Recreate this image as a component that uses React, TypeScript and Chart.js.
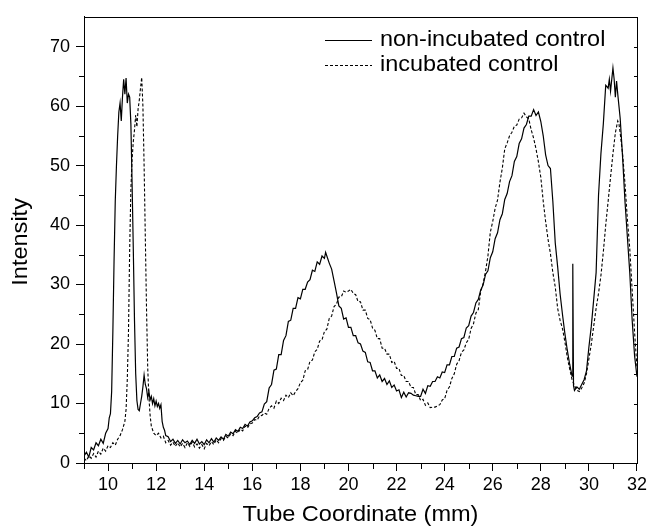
import { useEffect, useRef } from "react";
import { Chart, registerables } from "chart.js";

Chart.register(...registerables);

const xTickValues = [10, 12, 14, 16, 18, 20, 22, 24, 26, 28, 30, 32];
const xMinorTickValues = [9, 11, 13, 15, 17, 19, 21, 23, 25, 27, 29, 31];
const yTickValues = [0, 10, 20, 30, 40, 50, 60, 70];
const yMinorTickValues = [5, 15, 25, 35, 45, 55, 65];
const rightTickValues = [5, 10, 15, 20, 25, 30, 35, 40, 45, 50, 55, 60, 65, 70];
const seriesNames = ["non-incubated control", "incubated control"];
const xTitle = "Tube Coordinate (mm)";
const yTitle = "Intensity";

const nonIncubated: [number, number][] = [
  [9.0, 1.2], [9.1, 1.8], [9.2, 1.0], [9.3, 2.6], [9.4, 2.2], [9.5, 3.4], [9.6, 2.9], [9.7, 4.0], [9.8, 3.3], [9.9, 5.0],
  [10.0, 5.8], [10.05, 7.6], [10.1, 8.3], [10.15, 12], [10.2, 22], [10.25, 34], [10.3, 44], [10.35, 50], [10.4, 55], [10.45, 59],
  [10.5, 60.5], [10.55, 57.5], [10.6, 61.5], [10.65, 64.5], [10.7, 62], [10.75, 64.7], [10.8, 60.5], [10.85, 62], [10.9, 61.5], [10.95, 57],
  [11.0, 47], [11.05, 36], [11.1, 24], [11.15, 15], [11.2, 10.5], [11.25, 9], [11.3, 8.8], [11.35, 10], [11.4, 11.2], [11.45, 12.8],
  [11.5, 14.8], [11.55, 13.2], [11.6, 12.5], [11.65, 11.0], [11.7, 12.0], [11.75, 10.6], [11.8, 11.2], [11.85, 10.0], [11.9, 10.8], [11.95, 9.6],
  [12.0, 10.4], [12.05, 9.5], [12.1, 10.0], [12.15, 9.2], [12.2, 9.8], [12.25, 7.0], [12.3, 6.0], [12.35, 5.5], [12.4, 4.6], [12.5, 4.4],
  [12.6, 3.6], [12.7, 4.0], [12.8, 3.3], [12.9, 3.8], [13.0, 3.2], [13.1, 3.9], [13.2, 3.4], [13.3, 3.7], [13.4, 3.1], [13.5, 3.8],
  [13.6, 3.3], [13.7, 4.0], [13.8, 3.2], [13.9, 3.6], [14.0, 3.1], [14.1, 3.9], [14.2, 3.4], [14.3, 4.1], [14.4, 3.5], [14.5, 4.2],
  [14.6, 3.8], [14.7, 4.4], [14.8, 4.0], [14.9, 4.8], [15.0, 4.5], [15.1, 5.2], [15.2, 4.9], [15.3, 5.6], [15.4, 5.3], [15.5, 6.0],
  [15.6, 5.8], [15.7, 6.5], [15.8, 6.2], [15.9, 6.9], [16.0, 7.1], [16.1, 7.6], [16.2, 7.8], [16.3, 8.4], [16.4, 8.6], [16.5, 9.9],
  [16.6, 10.3], [16.7, 12.6], [16.8, 13.2], [16.9, 15.6], [17.0, 15.8], [17.1, 18.2], [17.2, 18.2], [17.3, 20.6], [17.4, 21.4], [17.5, 23.8],
  [17.6, 24.0], [17.7, 26.0], [17.8, 26.0], [17.9, 27.8], [18.0, 27.6], [18.1, 29.2], [18.2, 29.2], [18.3, 30.4], [18.4, 30.8], [18.5, 32.4],
  [18.6, 32.2], [18.7, 33.8], [18.8, 33.4], [18.9, 34.8], [19.0, 34.4], [19.05, 35.4], [19.1, 34.8], [19.2, 33.6], [19.3, 32.6], [19.4, 30.6],
  [19.5, 28.6], [19.6, 26.4], [19.7, 26.0], [19.8, 24.2], [19.9, 24.4], [20.0, 22.8], [20.1, 22.8], [20.2, 21.4], [20.3, 21.4], [20.4, 20.2],
  [20.5, 20.0], [20.6, 18.8], [20.7, 18.6], [20.8, 17.0], [20.9, 16.9], [21.0, 15.5], [21.1, 15.5], [21.2, 14.3], [21.3, 14.8], [21.4, 13.7],
  [21.5, 14.2], [21.6, 13.2], [21.7, 13.8], [21.8, 12.7], [21.9, 13.1], [22.0, 12.1], [22.1, 12.3], [22.2, 11.0], [22.3, 11.9], [22.4, 11.1],
  [22.5, 11.8], [22.6, 11.7], [22.7, 11.4], [22.8, 11.3], [22.9, 11.2], [23.0, 11.2], [23.1, 12.4], [23.2, 11.7], [23.3, 13.0], [23.4, 12.9],
  [23.5, 13.7], [23.6, 13.7], [23.7, 14.5], [23.8, 14.3], [23.9, 15.3], [24.0, 15.2], [24.1, 16.5], [24.2, 16.5], [24.3, 17.9], [24.4, 17.9],
  [24.5, 19.3], [24.6, 19.5], [24.7, 20.9], [24.8, 21.1], [24.9, 22.7], [25.0, 23.1], [25.1, 24.7], [25.2, 25.3], [25.3, 26.9], [25.4, 27.5],
  [25.5, 29.1], [25.6, 29.9], [25.7, 31.7], [25.8, 32.3], [25.9, 34.5], [26.0, 35.5], [26.1, 37.7], [26.2, 38.7], [26.3, 40.9], [26.4, 41.9],
  [26.5, 44.3], [26.6, 45.3], [26.7, 47.3], [26.8, 48.3], [26.9, 50.7], [27.0, 51.5], [27.1, 53.7], [27.2, 54.5], [27.3, 56.3], [27.4, 56.9],
  [27.5, 58.3], [27.6, 58.3], [27.7, 59.4], [27.8, 58.4], [27.9, 59.0], [28.0, 57.4], [28.1, 55.0], [28.2, 51.8], [28.3, 50.0], [28.4, 49.5],
  [28.5, 44.0], [28.6, 37.0], [28.7, 33.0], [28.8, 28.5], [28.9, 25.0], [29.0, 21.8], [29.1, 19.0], [29.2, 16.6], [29.3, 14.6], [29.33, 33.5],
  [29.36, 13.0], [29.4, 12.2], [29.5, 12.8], [29.6, 12.4], [29.7, 13.2], [29.8, 14.0], [29.9, 15.5], [30.0, 19.5], [30.1, 23.0], [30.2, 27.5],
  [30.3, 32.0], [30.4, 45.0], [30.5, 52.0], [30.6, 57.0], [30.7, 63.5], [30.8, 63.0], [30.85, 64.5], [30.9, 62.5], [31.0, 66.4], [31.05, 64.5],
  [31.1, 61.5], [31.15, 64.2], [31.2, 62.0], [31.3, 58.0], [31.4, 51.5], [31.5, 44.0], [31.6, 38.0], [31.7, 32.0], [31.8, 24.0], [31.9, 18.0],
  [32.0, 14.5],
];

const incubated: [number, number][] = [
  [9.0, 0.8], [9.1, 0.4], [9.2, 1.2], [9.3, 0.8], [9.4, 1.6], [9.5, 1.0], [9.6, 2.0], [9.7, 1.5], [9.8, 2.5], [9.9, 2.0],
  [10.0, 2.9], [10.1, 2.6], [10.2, 3.4], [10.3, 3.0], [10.4, 4.0], [10.5, 4.6], [10.6, 5.6], [10.7, 7.0], [10.75, 9.0], [10.8, 14],
  [10.85, 22], [10.9, 36], [10.95, 46], [11.0, 51], [11.05, 54], [11.1, 56], [11.15, 58.5], [11.2, 56.5], [11.25, 59.5], [11.3, 61],
  [11.35, 63], [11.4, 64.8], [11.45, 60], [11.5, 50], [11.55, 38], [11.6, 26], [11.65, 16], [11.7, 11], [11.75, 8], [11.8, 6.2],
  [11.9, 5.0], [12.0, 4.6], [12.1, 5.0], [12.2, 4.2], [12.3, 4.5], [12.4, 3.4], [12.5, 3.8], [12.6, 3.0], [12.7, 3.5], [12.8, 2.8],
  [12.9, 3.4], [13.0, 2.7], [13.1, 3.3], [13.2, 2.6], [13.3, 3.4], [13.4, 2.8], [13.5, 3.5], [13.6, 2.7], [13.7, 3.2], [13.8, 2.5],
  [13.9, 3.1], [14.0, 2.4], [14.1, 3.3], [14.2, 2.9], [14.3, 3.6], [14.4, 3.1], [14.5, 3.9], [14.6, 3.4], [14.7, 4.1], [14.8, 3.8],
  [14.9, 4.5], [15.0, 4.2], [15.1, 4.9], [15.2, 4.6], [15.3, 5.3], [15.4, 5.0], [15.5, 5.7], [15.6, 5.4], [15.7, 6.2], [15.8, 5.9],
  [15.9, 6.6], [16.0, 6.7], [16.1, 7.3], [16.2, 7.2], [16.3, 7.9], [16.4, 8.0], [16.5, 8.4], [16.6, 8.2], [16.7, 9.2], [16.8, 9.6],
  [16.9, 9.2], [17.0, 10.4], [17.1, 10.0], [17.2, 10.9], [17.3, 10.5], [17.4, 11.4], [17.5, 11.0], [17.6, 11.8], [17.7, 11.3], [17.8, 12.0],
  [17.9, 12.5], [18.0, 13.5], [18.1, 13.9], [18.2, 15.5], [18.3, 15.7], [18.4, 17.1], [18.5, 17.3], [18.6, 18.7], [18.7, 19.1], [18.8, 20.5],
  [18.9, 20.7], [19.0, 22.1], [19.1, 22.5], [19.2, 24.3], [19.3, 24.7], [19.4, 26.3], [19.5, 26.7], [19.6, 27.9], [19.7, 27.9], [19.8, 28.9],
  [19.9, 28.7], [20.0, 28.9], [20.1, 29.2], [20.2, 28.5], [20.3, 28.3], [20.4, 27.1], [20.5, 27.1], [20.6, 25.7], [20.7, 25.7], [20.8, 24.3],
  [20.9, 24.1], [21.0, 22.7], [21.1, 22.3], [21.2, 20.9], [21.3, 20.9], [21.4, 19.3], [21.5, 19.3], [21.6, 18.3], [21.7, 18.3], [21.8, 16.9],
  [21.9, 17.1], [22.0, 15.9], [22.1, 15.9], [22.2, 14.7], [22.3, 14.7], [22.4, 13.7], [22.5, 13.7], [22.6, 12.7], [22.7, 12.7], [22.8, 11.5],
  [22.9, 11.5], [23.0, 10.5], [23.1, 10.7], [23.2, 9.7], [23.3, 10.1], [23.4, 9.3], [23.5, 9.4], [23.6, 9.4], [23.7, 9.6], [23.8, 9.8],
  [23.9, 10.6], [24.0, 10.8], [24.1, 12.2], [24.2, 12.8], [24.3, 14.2], [24.4, 15.0], [24.5, 16.6], [24.6, 17.2], [24.7, 18.6], [24.8, 19.0],
  [24.9, 20.2], [25.0, 20.8], [25.1, 22.6], [25.2, 23.4], [25.3, 25.2], [25.4, 25.8], [25.5, 28.8], [25.6, 30.2], [25.7, 32.2], [25.8, 34.8],
  [25.9, 38.8], [26.0, 40.6], [26.1, 42.8], [26.2, 44.2], [26.3, 47.2], [26.4, 49.6], [26.5, 52.8], [26.6, 53.8], [26.7, 55.0], [26.8, 55.6],
  [26.9, 56.6], [27.0, 56.8], [27.1, 57.8], [27.2, 58.0], [27.3, 58.8], [27.4, 58.2], [27.5, 57.8], [27.6, 56.0], [27.7, 54.6], [27.8, 52.8],
  [27.9, 50.6], [28.0, 48.0], [28.1, 44.0], [28.2, 40.6], [28.3, 37.6], [28.4, 35.2], [28.5, 32.0], [28.6, 29.6], [28.7, 26.0], [28.8, 24.0],
  [28.9, 22.6], [29.0, 20.4], [29.1, 17.8], [29.2, 15.8], [29.3, 14.0], [29.4, 13.0], [29.5, 12.2], [29.6, 12.0], [29.7, 12.6], [29.8, 13.4],
  [29.9, 15.0], [30.0, 17.5], [30.1, 20.0], [30.2, 23.0], [30.3, 26.0], [30.4, 28.5], [30.5, 31.5], [30.6, 35.5], [30.7, 40.0], [30.8, 44.0],
  [30.9, 48.0], [31.0, 52.0], [31.1, 55.5], [31.2, 57.5], [31.25, 57.0], [31.3, 55.5], [31.4, 52.0], [31.5, 47.0], [31.6, 41.0], [31.7, 36.0],
  [31.8, 29.0], [31.9, 22.0], [32.0, 16.0],
];

const FONT = '"Liberation Sans", Arial, Helvetica, sans-serif';

function stretchedText(ctx: CanvasRenderingContext2D, text: string, x: number, y: number, sx: number, align: CanvasTextAlign) {
  ctx.save();
  ctx.translate(x, y);
  ctx.scale(sx, 1);
  ctx.textAlign = align;
  ctx.fillText(text, 0, 0);
  ctx.restore();
}

const framePlugin = {
  id: "frameAndMinor",
  afterDraw(chart: any) {
    const { ctx, chartArea } = chart;
    const xs = chart.scales.x;
    const ys = chart.scales.y;
    ctx.save();
    ctx.strokeStyle = "#000";
    ctx.lineWidth = 1;
    ctx.strokeRect(Math.round(chartArea.left) + 0.5, Math.round(chartArea.top) + 0.5,
      Math.round(chartArea.right - chartArea.left), Math.round(chartArea.bottom - chartArea.top));
    ctx.beginPath();
    for (const v of xMinorTickValues) {
      const px = Math.round(xs.getPixelForValue(v)) + 0.5;
      ctx.moveTo(px, chartArea.bottom);
      ctx.lineTo(px, chartArea.bottom + 6);
    }
    for (const v of yMinorTickValues) {
      const py = Math.round(ys.getPixelForValue(v)) + 0.5;
      ctx.moveTo(chartArea.left, py);
      ctx.lineTo(chartArea.left - 5, py);
    }
    for (const v of rightTickValues) {
      const py = Math.round(ys.getPixelForValue(v)) + 0.5;
      ctx.moveTo(chartArea.right, py);
      ctx.lineTo(chartArea.right - 3, py);
    }
    ctx.stroke();

    ctx.fillStyle = "#000";
    ctx.textBaseline = "middle";

    // axis titles
    ctx.font = `22px ${FONT}`;
    stretchedText(ctx, xTitle, (chartArea.left + chartArea.right) / 2, 515, 1.07, "center");
    ctx.save();
    ctx.translate(21, (chartArea.top + chartArea.bottom) / 2 + 2);
    ctx.rotate(-Math.PI / 2);
    stretchedText(ctx, yTitle, 0, 0, 1.07, "center");
    ctx.restore();

    // legend
    const lx0 = 325, lx1 = 372, tx = 380;
    const rows = [40, 65];
    rows.forEach((ry, i) => {
      ctx.beginPath();
      ctx.setLineDash(i === 0 ? [] : [3, 2]);
      ctx.moveTo(lx0, ry + 0.5);
      ctx.lineTo(lx1, ry + 0.5);
      ctx.stroke();
      ctx.setLineDash([]);
      stretchedText(ctx, seriesNames[i], tx, ry, 1.065, "left");
    });
    ctx.restore();
  },
};

export default function App() {
  const ref = useRef<HTMLCanvasElement | null>(null);
  useEffect(() => {
    if (!ref.current) return;
    const chart = new Chart(ref.current, {
      type: "line",
      data: {
        datasets: [
          {
            label: seriesNames[0],
            data: nonIncubated.map(([x, y]) => ({ x, y })),
            borderColor: "#000",
            borderWidth: 1.2,
            pointRadius: 0,
            tension: 0,
            fill: false,
          },
          {
            label: seriesNames[1],
            data: incubated.map(([x, y]) => ({ x, y })),
            borderColor: "#000",
            borderWidth: 1.1,
            borderDash: [3, 2],
            pointRadius: 0,
            tension: 0,
            fill: false,
          },
        ],
      },
      options: {
        animation: false,
        responsive: false,
        maintainAspectRatio: false,
        layout: { padding: { top: 12, right: 10, left: 0, bottom: 0 } },
        plugins: { legend: { display: false }, tooltip: { enabled: false } },
        scales: {
          x: {
            type: "linear",
            min: 9,
            max: 32,
            afterBuildTicks: (s: any) => { s.ticks = xTickValues.map((v) => ({ value: v })); },
            afterFit: (s: any) => { s.height = 66; },
            grid: { drawOnChartArea: false, drawTicks: true, tickLength: 8, color: "#000" },
            border: { display: true, color: "#000", width: 1 },
            ticks: { color: "#000", font: { family: FONT, size: 18 }, padding: 3, maxRotation: 0, autoSkip: false },
            title: { display: false },
          },
          y: {
            type: "linear",
            min: 0,
            max: 75,
            afterBuildTicks: (s: any) => { s.ticks = yTickValues.map((v) => ({ value: v })); },
            afterFit: (s: any) => { s.width = 84; },
            grid: { drawOnChartArea: false, drawTicks: true, tickLength: 8, color: "#000" },
            border: { display: true, color: "#000", width: 1 },
            ticks: { color: "#000", font: { family: FONT, size: 18 }, padding: 6, autoSkip: false },
            title: { display: false },
          },
        },
      },
      plugins: [framePlugin],
    });
    return () => chart.destroy();
  }, []);
  return (
    <div style={{ position: "absolute", left: 0, top: 0, width: 650, height: 529, background: "#fff" }}>
      <canvas ref={ref} width={650} height={529} style={{ display: "block" }} />
    </div>
  );
}
